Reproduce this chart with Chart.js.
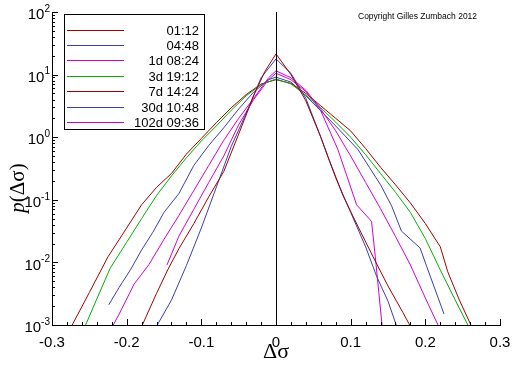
<!DOCTYPE html>
<html>
<head>
<meta charset="utf-8">
<script src="https://cdn.jsdelivr.net/npm/chart.js@4.4.1/dist/chart.umd.min.js"></script>
<style>
  html, body { margin: 0; padding: 0; background: #fff; }
  #wrap { width: 512px; height: 366px; }
</style>
</head>
<body>
<div id="wrap"><canvas id="chart"></canvas></div>
<script>
// time horizons (legend) and their line colours
const labels = ['01:12', '04:48', '1d 08:24', '3d 19:12', '7d 14:24', '30d 10:48', '102d 09:36'];
const colors = ['#a00000', '#3c3cb4', '#d000d0', '#00b000', '#a00000', '#3c3cb4', '#d000d0'];

// Δσ values and density p(Δσ)
const x0112 = [-0.179, -0.16, -0.145, -0.13, -0.11, -0.09, -0.07, -0.05, -0.03, -0.015, 0, 0.02, 0.04, 0.06, 0.07, 0.09, 0.11, 0.13, 0.15, 0.17, 0.179];
const p0112 = [0.001, 0.0032, 0.0076, 0.0166, 0.0417, 0.112, 0.282, 1.12, 4.57, 11.2, 21.4, 10, 3.8, 1.0, 0.47, 0.115, 0.037, 0.0123, 0.0042, 0.00158, 0.001];

const x0448 = [-0.159, -0.14, -0.12, -0.10, -0.08, -0.06, -0.04, -0.02, 0, 0.02, 0.04, 0.06, 0.08, 0.10, 0.12, 0.135, 0.15, 0.161];
const p0448 = [0.001, 0.0025, 0.0089, 0.0355, 0.158, 0.708, 2.4, 8.9, 17.8, 10.5, 4.17, 1.0, 0.224, 0.063, 0.0178, 0.0059, 0.0024, 0.001];

const x1d = [-0.218, -0.21, -0.19, -0.17, -0.15, -0.13, -0.11, -0.09, -0.07, -0.05, -0.03, -0.01, 0, 0.02, 0.04, 0.06, 0.08, 0.10, 0.12, 0.14, 0.16, 0.18, 0.20, 0.217];
const p1d = [0.001, 0.0015, 0.0045, 0.0093, 0.0234, 0.0562, 0.141, 0.355, 0.891, 2.0, 4.17, 8.9, 11.5, 8.9, 5.6, 2.8, 1.26, 0.5, 0.19, 0.072, 0.026, 0.0091, 0.0027, 0.001];

const x3d = [-0.255, -0.24, -0.222, -0.2, -0.18, -0.16, -0.14, -0.12, -0.10, -0.08, -0.06, -0.04, -0.02, 0, 0.02, 0.04, 0.06, 0.08, 0.10, 0.12, 0.14, 0.16, 0.18, 0.20, 0.22, 0.24, 0.257];
const p3d = [0.001, 0.0026, 0.0081, 0.0209, 0.0501, 0.117, 0.24, 0.468, 0.871, 1.51, 2.69, 4.57, 6.9, 8.5, 7.1, 4.68, 2.95, 1.74, 1.0, 0.525, 0.263, 0.132, 0.063, 0.024, 0.0076, 0.0025, 0.001];

const x7d = [-0.273, -0.25, -0.225, -0.2, -0.18, -0.16, -0.14, -0.12, -0.10, -0.08, -0.06, -0.04, -0.02, 0, 0.02, 0.04, 0.06, 0.08, 0.10, 0.12, 0.14, 0.16, 0.18, 0.20, 0.22, 0.23, 0.245, 0.261];
const p7d = [0.001, 0.0033, 0.0123, 0.0355, 0.0832, 0.158, 0.263, 0.537, 0.955, 1.7, 2.95, 4.79, 7.08, 8.3, 7.24, 5.0, 3.16, 2.0, 1.26, 0.66, 0.331, 0.174, 0.089, 0.0417, 0.0178, 0.0071, 0.0026, 0.001];

const x30d = [-0.224, -0.21, -0.195, -0.18, -0.165, -0.15, -0.13, -0.11, -0.09, -0.07, -0.05, -0.03, -0.01, 0, 0.02, 0.04, 0.06, 0.08, 0.11, 0.125, 0.14, 0.155, 0.168, 0.193, 0.202, 0.225];
const p30d = [0.0021, 0.004, 0.0076, 0.0158, 0.0302, 0.063, 0.126, 0.355, 0.74, 1.41, 2.82, 5.25, 8.3, 9.1, 7.6, 4.57, 2.63, 1.51, 0.63, 0.33, 0.174, 0.079, 0.0316, 0.017, 0.0085, 0.0015];

const x102d = [-0.146, -0.13, -0.11, -0.09, -0.07, -0.05, -0.03, -0.01, 0, 0.02, 0.04, 0.06, 0.083, 0.108, 0.126, 0.128, 0.133, 0.142];
const p102d = [0.0091, 0.0263, 0.0708, 0.19, 0.5, 1.58, 3.98, 8.3, 10.5, 8.3, 5.37, 2.63, 0.63, 0.083, 0.048, 0.0447, 0.0123, 0.001];

const xSeries = [x0112, x0448, x1d, x3d, x7d, x30d, x102d];
const pSeries = [p0112, p0448, p1d, p3d, p7d, p30d, p102d];

// axis ticks
const xTicksMajor = [-0.3, -0.2, -0.1, 0, 0.1, 0.2, 0.3];
const yExponents = [-3, -2, -1, 0, 1, 2];

const FONT = '"Liberation Sans", Arial, sans-serif';
const SERIF = '"Liberation Serif", "Times New Roman", serif';

// inward ticks, log labels, titles, zero line, legend box, copyright
const decorations = {
    id: 'decorations',
    afterDraw(chart) {
        const ctx = chart.ctx;
        const xs = chart.scales.x;
        const ys = chart.scales.y;
        const area = chart.chartArea;
        ctx.save();
        ctx.strokeStyle = '#000';
        ctx.lineWidth = 1;

        // vertical line at Δσ = 0
        const x0 = Math.round(xs.getPixelForValue(0)) + 0.5;
        ctx.beginPath();
        ctx.moveTo(x0, area.top);
        ctx.lineTo(x0, area.bottom);
        ctx.stroke();

        // x ticks pointing up (minor every 0.02)
        ctx.beginPath();
        for (let i = 0; i <= 30; i++) {
            const v = -0.3 + i * 0.02;
            const px = Math.round(xs.getPixelForValue(v)) + 0.5;
            const len = (i % 5 === 0) ? 6 : 3;
            ctx.moveTo(px, area.bottom);
            ctx.lineTo(px, area.bottom - len);
        }
        // y ticks pointing right (log minor ticks)
        yExponents.forEach(e => {
            const py = Math.round(ys.getPixelForValue(Math.pow(10, e))) + 0.5;
            ctx.moveTo(area.left, py);
            ctx.lineTo(area.left + 6, py);
            if (e < 2) {
                for (let m = 2; m <= 9; m++) {
                    const pm = Math.round(ys.getPixelForValue(m * Math.pow(10, e))) + 0.5;
                    ctx.moveTo(area.left, pm);
                    ctx.lineTo(area.left + 3, pm);
                }
            }
        });
        ctx.stroke();

        // y tick labels 10^n
        ctx.fillStyle = '#000';
        ctx.textBaseline = 'middle';
        ctx.textAlign = 'right';
        yExponents.forEach(e => {
            const py = ys.getPixelForValue(Math.pow(10, e));
            const sup = String(e);
            ctx.font = '10px ' + FONT;
            const sw = ctx.measureText(sup).width;
            const right = area.left - 2;
            ctx.fillText(sup, right, py - 3);
            ctx.font = '15px ' + FONT;
            ctx.fillText('10', right - sw, py + 3);
        });

        // y title p(Δσ)
        ctx.save();
        ctx.translate(18, 188);
        ctx.rotate(-Math.PI / 2);
        ctx.textAlign = 'left';
        ctx.font = 'italic 21px ' + SERIF;
        const pw = ctx.measureText('p').width;
        ctx.font = '21px ' + SERIF;
        const rw = ctx.measureText('(Δσ)').width;
        const start = -(pw + rw) / 2;
        ctx.font = 'italic 21px ' + SERIF;
        ctx.fillText('p', start, 0);
        ctx.font = '21px ' + SERIF;
        ctx.fillText('(Δσ)', start + pw, 0);
        ctx.restore();

        // x title
        ctx.textAlign = 'center';
        ctx.font = '22px ' + SERIF;
        ctx.fillText('Δσ', xs.getPixelForValue(0), 352);

        // legend box
        ctx.fillStyle = '#fff';
        ctx.fillRect(64.5, 14.5, 140, 115);
        ctx.strokeRect(64.5, 14.5, 140, 115);
        ctx.font = '13px ' + FONT;
        ctx.textAlign = 'right';
        chart.data.datasets.forEach((ds, i) => {
            const ry = Math.round(29.5 + i * 15.4) + 0.5;
            ctx.strokeStyle = ds.borderColor;
            ctx.beginPath();
            ctx.moveTo(67, ry);
            ctx.lineTo(124, ry);
            ctx.stroke();
            ctx.fillStyle = '#000';
            ctx.fillText(ds.label, 199, ry + 1);
        });

        // copyright
        ctx.textAlign = 'left';
        ctx.font = '8.5px ' + FONT;
        ctx.fillText('Copyright Gilles Zumbach 2012', 358, 17);
        ctx.restore();
    }
};

const datasets = labels.map((label, i) => ({
    label: label,
    data: xSeries[i].map((x, j) => ({ x: x, y: pSeries[i][j] })),
    borderColor: colors[i],
    backgroundColor: colors[i],
    borderWidth: 1,
    showLine: true,
    fill: false,
    tension: 0,
    pointRadius: 0
}));

new Chart(document.getElementById('chart'), {
    type: 'scatter',
    data: { datasets: datasets },
    options: {
        responsive: true,
        maintainAspectRatio: false,
        animation: false,
        layout: { padding: { top: 12, right: 12, left: 0, bottom: 0 } },
        plugins: { legend: { display: false }, tooltip: { enabled: false } },
        scales: {
            x: {
                type: 'linear',
                min: -0.3,
                max: 0.3,
                afterBuildTicks: s => { s.ticks = xTicksMajor.map(v => ({ value: v })); },
                afterFit: s => { s.height = 41; },
                grid: { display: false },
                border: { display: true, color: '#000', width: 1 },
                ticks: {
                    autoSkip: false,
                    maxRotation: 0,
                    padding: 1,
                    color: '#000',
                    font: { family: FONT, size: 15 },
                    callback: v => Math.abs(v) < 1e-9 ? '0' : v.toFixed(1)
                }
            },
            y: {
                type: 'logarithmic',
                min: 0.001,
                max: 100,
                afterFit: s => { s.width = 52; },
                grid: { display: false },
                border: { display: true, color: '#000', width: 1 },
                ticks: { display: false }
            }
        }
    },
    plugins: [decorations]
});
</script>
</body>
</html>
